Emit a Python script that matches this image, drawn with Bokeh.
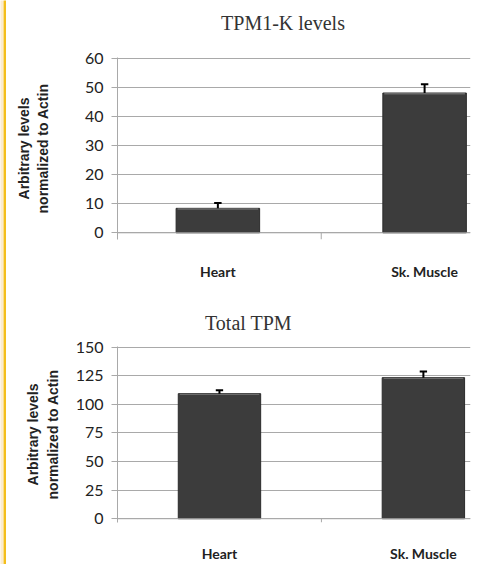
from bokeh.plotting import figure
from bokeh.models import Span, FixedTicker, Range1d
from bokeh.core.properties import value
from bokeh.layouts import column, row
from bokeh.embed import file_html
from bokeh.resources import INLINE

categories = ["Heart", "Sk. Muscle"]
tpm1k_values = [8.4, 48.0]
tpm1k_errors = [1.8, 3.0]
total_values = [109.3, 123.3]
total_errors = [3.0, 5.3]
tpm1k_ticks = [0, 10, 20, 30, 40, 50, 60]
total_ticks = [0, 25, 50, 75, 100, 125, 150]
titles = ["TPM1-K levels", "Total TPM"]

GOLD = "#f4be1c"
CREAM = "#fbecd0"
GRID = "#a9a9a9"
BAR = "#3c3c3c"
SANS = "Lato"
LABEL_FONT = "Liberation Sans"
SERIF = "Liberation Serif"
FIG_W = 469
BL, BR = 111, 5
FRAME_W = FIG_W - BL - BR


def bare(width, height, color, bl=0, br=0):
    f = figure(width=width, height=height, output_backend="svg", toolbar_location=None,
               x_axis_location=None, y_axis_location=None, min_border=0,
               min_border_left=bl, min_border_right=br,
               x_range=Range1d(0, width - bl - br), y_range=Range1d(0, height))
    f.outline_line_color = None
    f.grid.visible = False
    f.background_fill_color = color
    f.border_fill_color = color
    return f


def title_fig(text, height, cx, cy):
    f = bare(FIG_W, height, "white", BL, BR)
    f.text(x=[cx], y=[cy], text=[text], text_font=value(SERIF), text_font_size="20px",
           text_color="#333333", text_align="center", text_baseline="middle")
    return f


def make_chart(values, errors, ticks, yr, xr, height, bt, bb, label_standoff, tick_len):
    p = figure(width=FIG_W, height=height, output_backend="svg", toolbar_location=None,
               x_range=Range1d(*xr), y_range=Range1d(*yr),
               min_border_left=BL, min_border_right=BR, min_border_top=bt,
               min_border_bottom=bb)
    p.outline_line_color = None
    p.background_fill_color = "white"
    p.border_fill_color = "white"
    xs = [0.5, 1.5]
    p.vbar(x=xs, top=values, bottom=0, width=0.404, fill_color=BAR, line_color="#2b2b2b")
    p.vbar(x=xs, top=values, bottom=[t - (yr[1] - yr[0]) * 0.008 for t in values], width=0.39,
           fill_color="#6b6b6b", line_color=None)
    caps = [v + e for v, e in zip(values, errors)]
    p.segment(x0=xs, y0=values, x1=xs, y1=caps, line_color="black", line_width=2)
    p.segment(x0=[x - 0.018 for x in xs], y0=caps, x1=[x + 0.018 for x in xs], y1=caps,
              line_color="black", line_width=2)
    p.add_layout(Span(location=0, dimension="width", line_color=GRID, line_width=1))
    p.segment(x0=[1], y0=[0], x1=[1], y1=[yr[0]], line_color=GRID, line_width=1)

    p.yaxis.ticker = FixedTicker(ticks=ticks)
    p.yaxis.axis_line_color = GRID
    p.yaxis.major_tick_line_color = GRID
    p.yaxis.major_tick_out = 6
    p.yaxis.major_tick_in = 0
    p.yaxis.minor_tick_line_color = None
    p.yaxis.major_label_text_font = SANS
    p.yaxis.major_label_text_font_size = "16px"
    p.yaxis.major_label_text_color = "#222222"
    p.yaxis.major_label_standoff = 8
    p.yaxis.axis_label = "Arbitrary levels\nnormalized to Actin"
    p.yaxis.axis_label_text_font = LABEL_FONT
    p.yaxis.axis_label_text_font_style = "bold"
    p.yaxis.axis_label_text_font_size = "14px"
    p.yaxis.axis_label_text_color = "#222222"
    p.yaxis.axis_label_standoff = label_standoff
    p.ygrid.ticker = FixedTicker(ticks=ticks)
    p.ygrid.grid_line_color = GRID
    p.xgrid.grid_line_color = None

    p.xaxis.ticker = FixedTicker(ticks=xs)
    p.xaxis.major_label_overrides = {0.5: categories[0], 1.5: categories[1]}
    p.xaxis.axis_line_color = None
    p.xaxis.major_tick_line_color = None
    p.xaxis.minor_tick_line_color = None
    p.xaxis.major_label_text_font = SANS
    p.xaxis.major_label_text_font_style = "bold"
    p.xaxis.major_label_text_font_size = "14px"
    p.xaxis.major_label_text_color = "#222222"
    p.xaxis.major_label_standoff = tick_len
    return p


t1 = title_fig(titles[0], 44, 165.5, 25)
p1 = make_chart(tpm1k_values, tpm1k_errors, tpm1k_ticks,
                (-2.3, 60.2), (0.0145, 1.722), 235, 10, 35, 31, 17)
t2 = title_fig(titles[1], 55, 131, 15)
p2 = make_chart(total_values, total_errors, total_ticks,
                (-3.3, 150.5), (0.0, 1.731), 227, 9, 32, 12, 16)

strip_l = bare(3, 564, CREAM)
strip_g = bare(3, 564, GOLD)
top_line = bare(FIG_W, 3, GOLD, BL, BR)

p = row(strip_l, strip_g, column(top_line, t1, p1, t2, p2, spacing=0), spacing=0)

open("out.html", "w").write(file_html(p, INLINE))
